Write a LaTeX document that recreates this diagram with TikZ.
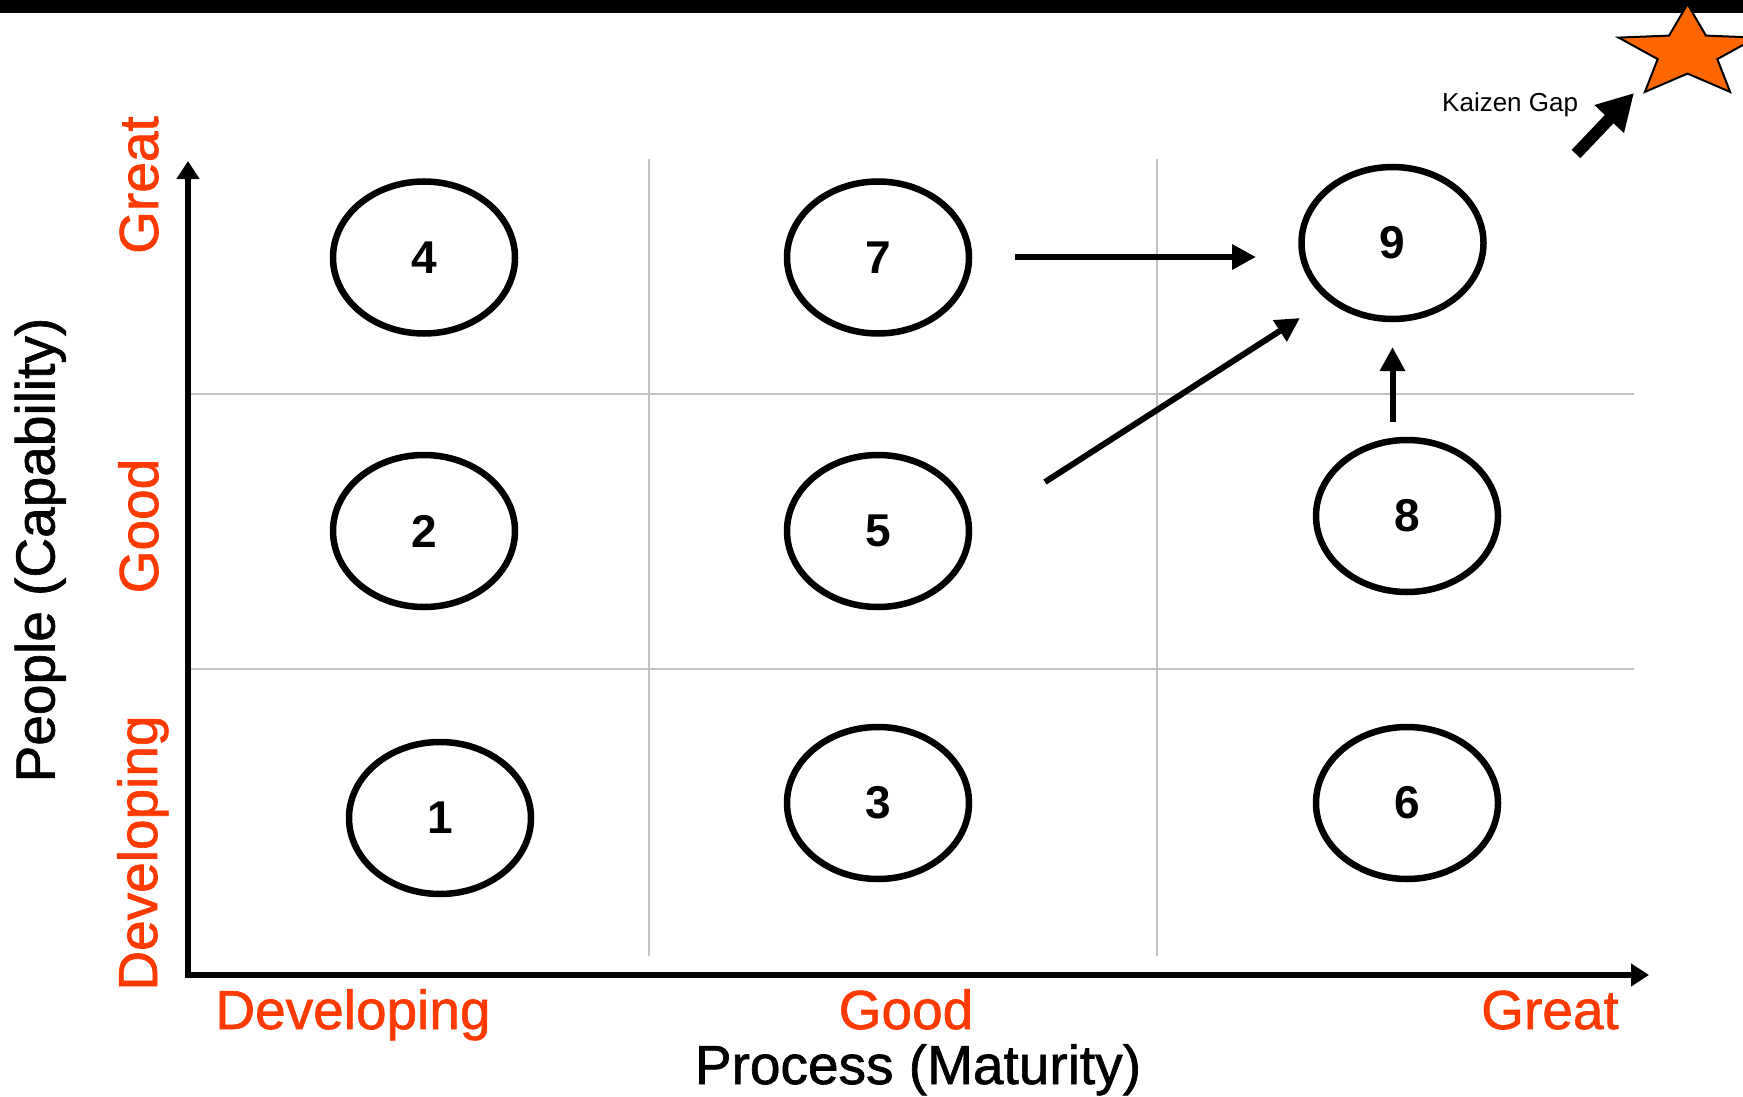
\documentclass[tikz,border=0pt]{standalone}
\usepackage{fontspec}
\setmainfont{Liberation Sans}
\newfontfamily\lblfont[FakeBold=1.2]{Liberation Sans}
\usetikzlibrary{arrows.meta,shapes.geometric}
\definecolor{lblred}{RGB}{255,58,0}
\definecolor{starorange}{RGB}{255,102,0}
\definecolor{gridgray}{RGB}{195,195,195}
\begin{document}
\begin{tikzpicture}[x=1pt,y=-1pt,
  bubble/.style={draw, line width=6.5pt, ellipse, minimum width=182pt, minimum height=152pt, inner sep=0pt, font=\fontsize{46}{46}\selectfont\bfseries},
  lbl/.style={text=lblred, inner sep=0pt, font=\fontsize{55}{60}\lblfont},
  axtitle/.style={text=black, inner sep=0pt, font=\fontsize{55}{60}\lblfont},
  gridline/.style={draw=gridgray, line width=2pt},
  flow/.style={line width=6pt, -{Triangle[length=24pt,width=24pt]}},
  axisline/.style={line width=6.5pt, line join=miter, {Triangle[length=18pt,width=22pt]}-{Triangle[length=18pt,width=22pt]}},
  kaizen/.style={line width=12pt, -{Triangle[length=36pt,width=38pt]}},
  starshape/.style={fill=starorange, draw=black, line width=2pt, line join=miter}
]
\path[use as bounding box, clip] (0,0) rectangle (1743,1097);
\fill[black] (0,0) rectangle (1743,13);

% grid
\draw[gridline] (649,159) -- (649,956);
\draw[gridline] (1157,159) -- (1157,956);
\draw[gridline] (191,393.5) -- (1634,393.5);
\draw[gridline] (191,669) -- (1634,669);

% axes
\coordinate (ytop) at (188,161);
\coordinate (orig) at (188,975);
\coordinate (xend) at (1649,975);
\draw[axisline] (ytop) -- (orig) -- (xend);

% bubbles
\node[bubble] (n4) at (424,257.5) {4};
\node[bubble] (n7) at (878,257.5) {7};
\node[bubble] (n9) at (1392.5,243) {9};
\node[bubble] (n2) at (424,531) {2};
\node[bubble] (n5) at (878,531) {5};
\node[bubble] (n8) at (1407,516) {8};
\node[bubble] (n1) at (440,818) {1};
\node[bubble] (n3) at (878,803) {3};
\node[bubble] (n6) at (1407,803) {6};

% flows
\coordinate (a7s) at (1015,257);
\coordinate (a9w) at (1256,257);
\coordinate (a5s) at (1045,482);
\coordinate (a9sw) at (1300,318);
\coordinate (a8n) at (1392.5,422);
\coordinate (a9s) at (1392.5,347);
\draw[flow] (a7s) -- (a9w);
\draw[flow] (a5s) -- (a9sw);
\draw[flow] (a8n) -- (a9s);

% axis labels
\node[lbl, rotate=90, anchor=base] (yl3) at (158,185) {Great};
\node[lbl, rotate=90, anchor=base] (yl2) at (158,526) {Good};
\node[lbl, rotate=90, anchor=base] (yl1) at (157,853) {Developing};
\node[axtitle, rotate=90, anchor=base] (ytitle) at (54.5,550) {People (Capability)};
\node[lbl, anchor=base] (xl1) at (353,1029) {Developing};
\node[lbl, anchor=base] (xl2) at (906,1029) {Good};
\node[lbl, anchor=base] (xl3) at (1550,1029) {Great};
\node[axtitle, anchor=base] (xtitle) at (918,1084) {Process (Maturity)};

% star and kaizen gap
\draw[starshape] (1687.5,4.0) -- (1705.9,35.6) -- (1756.4,37.6) -- (1717.3,59.1) -- (1730.1,91.9)
  -- (1687.5,73.6) -- (1644.9,91.9) -- (1657.7,59.1) -- (1618.6,37.6) -- (1669.1,35.6) -- cycle;
\coordinate (kz1) at (1576,154);
\coordinate (kz2) at (1634,93);
\draw[kaizen] (kz1) -- (kz2);
\node[anchor=base west, inner sep=0pt, font=\fontsize{26}{28}\selectfont] (kzt) at (1442,112) {Kaizen Gap};
\end{tikzpicture}
\end{document}
